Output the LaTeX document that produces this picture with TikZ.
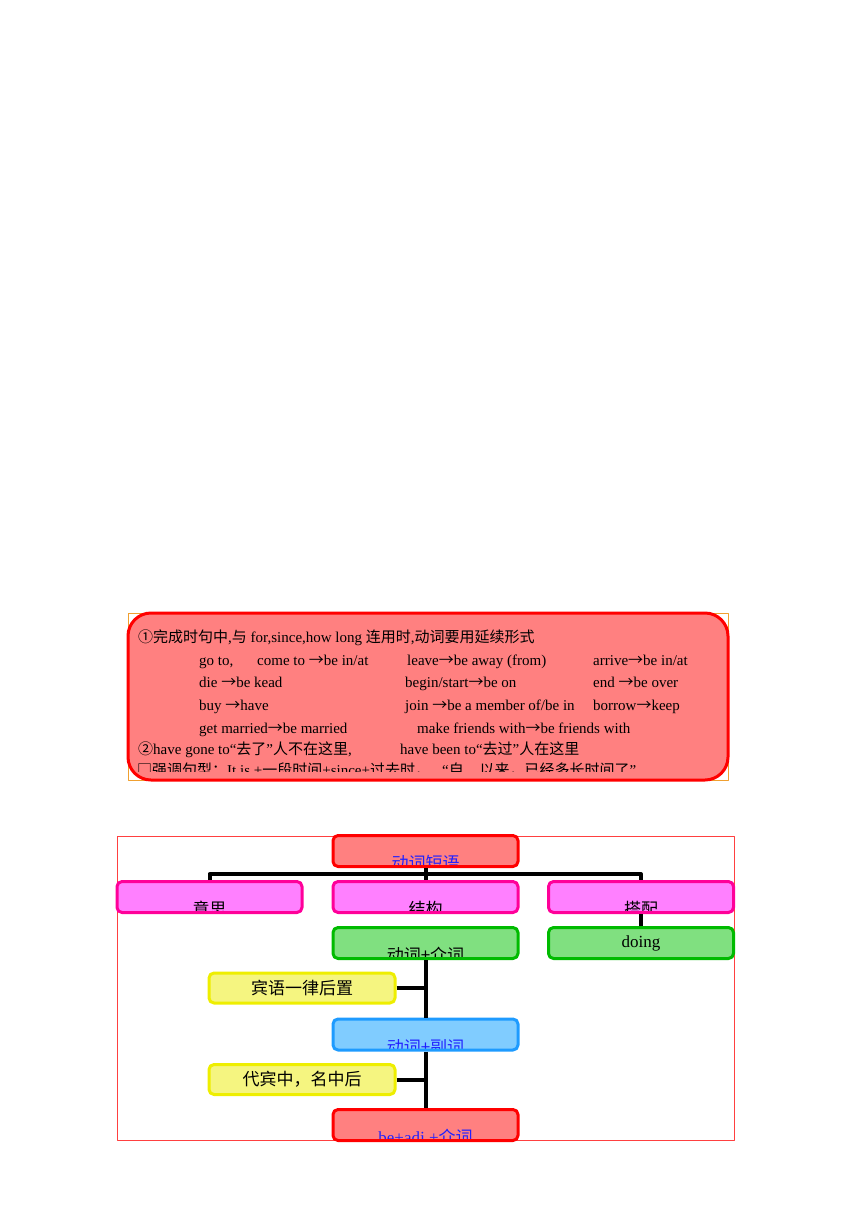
\documentclass[tikz,border=0pt]{standalone}
\usepackage{fontspec}
\setmainfont{Liberation Serif}
\newfontfamily\zh{Noto Sans CJK SC}
\newcommand\ra{{\zh →}}
\definecolor{phred}{HTML}{FF0000}
\definecolor{phredfill}{HTML}{FF8080}
\definecolor{phpink}{HTML}{FF0099}
\definecolor{phpinkfill}{HTML}{FF80FF}
\definecolor{phgreen}{HTML}{00BB00}
\definecolor{phgreenfill}{HTML}{80E080}
\definecolor{phblue}{HTML}{1E9BFF}
\definecolor{phbluefill}{HTML}{80CCFF}
\definecolor{phyellow}{HTML}{EEEE00}
\definecolor{phyellowfill}{HTML}{F5F580}
\definecolor{ink}{HTML}{2020FF}
\definecolor{phorange}{HTML}{F0A030}
\definecolor{phframe}{HTML}{FF4040}
\begin{document}
\begin{tikzpicture}[x=1pt, y=-1pt, line join=round,
  box/.style={draw, line width=3pt, rounded corners=5pt, minimum width=185pt, minimum height=31pt, inner sep=0pt, font=\fontsize{17}{20}\selectfont},
  redbox/.style={box, draw=phred, fill=phredfill},
  pinkbox/.style={box, draw=phpink, fill=phpinkfill},
  greenbox/.style={box, draw=phgreen, fill=phgreenfill},
  bluebox/.style={box, draw=phblue, fill=phbluefill},
  yellowbox/.style={box, draw=phyellow, fill=phyellowfill, minimum width=186pt, minimum height=30pt},
  lbl/.style={path picture={\node[draw=none, fill=none, inner sep=0pt, anchor=base, font=\fontsize{17}{20}\selectfont] at ([yshift=-3pt]path picture bounding box.south) {#1};}},
  link/.style={line width=4pt},
  txt/.style={anchor=base west, inner sep=0pt, font=\fontsize{15}{17}\selectfont}]
\useasboundingbox (0,0) rectangle (860,1216);
% top panel
\draw[phorange, line width=1pt] (128,613) rectangle (728,780);
\node[draw=phred, fill=phredfill, line width=3pt, rounded corners=23pt, minimum width=600pt, minimum height=167pt] (panel) at (428,696.5) {};
\node[txt] (l1) at (138,642) {{\zh ①完成时句中},{\zh 与} for,since,how long {\zh 连用时},{\zh 动词要用延续形式}};
\node[txt] (l2a) at (199,665) {go to,};
\node[txt] (l2b) at (257,665) {come to \ra be in/at};
\node[txt] (l2c) at (407,665) {leave\ra be away (from)};
\node[txt] (l2d) at (593,665) {arrive\ra be in/at};
\node[txt] (l3a) at (199,687) {die \ra be kead};
\node[txt] (l3b) at (405,687) {begin/start\ra be on};
\node[txt] (l3c) at (593,687) {end \ra be over};
\node[txt] (l4a) at (199,710) {buy \ra have};
\node[txt] (l4b) at (405,710) {join \ra be a member of/be in};
\node[txt] (l4c) at (593,710) {borrow\ra keep};
\node[txt] (l5a) at (199,733) {get married\ra be married};
\node[txt] (l5b) at (417,733) {make friends with\ra be friends with};
\node[txt] (l6a) at (138,754) {{\zh ②}have gone to“{\zh 去了}”{\zh 人不在这里},};
\node[txt] (l6b) at (400,754) {have been to“{\zh 去过}”{\zh 人在这里}};
\begin{scope}
  \clip (130,740) rectangle (726,771);
  \node[txt] (l7a) at (137,775) {{\zh □强调句型：}It is +{\zh 一段时间}+since+{\zh 过去时，}};
  \node[txt] (l7b) at (442,775) {“{\zh 自…以来，已经多长时间了}”};
\end{scope}
% tree
\draw[phframe, line width=1pt] (117,836) rectangle (734,1140);
\node[redbox, lbl={\color{ink}\zh 动词短语}] (vp) at (425.5,851) {};
\node[pinkbox, lbl={\zh 意思}] (meaning) at (209.5,897) {};
\node[pinkbox, lbl={\zh 结构}] (struct) at (425.5,897) {};
\node[pinkbox, lbl={\zh 搭配}] (colloc) at (641,897) {};
\node[greenbox, lbl={\zh 动词+介词}] (vprep) at (425.5,943) {};
\node[greenbox] (doing) at (641,943) {doing};
\node[yellowbox] (obj) at (302,988) {\zh 宾语一律后置};
\node[bluebox, lbl={\color{ink}\zh 动词+副词}] (vadv) at (425.5,1034.5) {};
\node[yellowbox] (pron) at (302,1079.5) {\zh 代宾中，名中后};
\node[redbox, lbl={\color{ink}be+adj.+{\zh 介词}}] (beadj) at (425.5,1125) {};
\coordinate (hub) at (425.5,874);
\draw[link] (vp.south) -- (hub) (hub) -- (struct.north);
\draw[link] (meaning.north) |- (hub) -| (colloc.north);
\draw[link] (colloc.south) -- (doing.north);
\draw[link] (vprep.south) -- (vadv.north) (obj.east) -- (vprep.south |- obj.east);
\draw[link] (vadv.south) -- (beadj.north) (pron.east) -- (vadv.south |- pron.east);
\end{tikzpicture}
\end{document}
